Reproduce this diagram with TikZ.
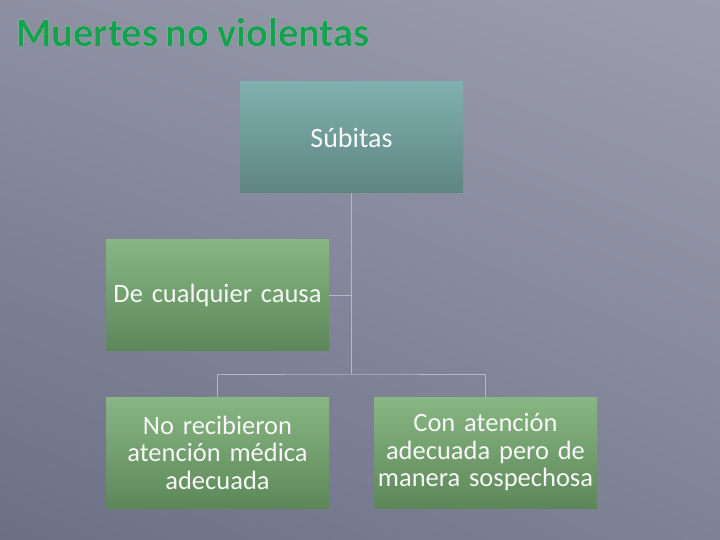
\documentclass[tikz,border=0pt]{standalone}
\usepackage{fontspec}
\setmainfont{Carlito}[WordSpace=0.85]
\usepackage[outline]{contour}
\contourlength{1.8pt}
\usetikzlibrary{shadings}
\definecolor{bgtop}{HTML}{9C9EAF}
\definecolor{bgbot}{HTML}{6C7084}
\definecolor{teal1}{HTML}{80B1AE}
\definecolor{teal2}{HTML}{5E8583}
\definecolor{green1}{HTML}{88B783}
\definecolor{green2}{HTML}{5D8759}
\definecolor{lineC}{HTML}{B4B8C4}
\definecolor{titleG}{HTML}{17A050}
\begin{document}
\begin{tikzpicture}[x=1pt,y=-1pt,
  box/.style={minimum width=223pt,minimum height=111pt,inner sep=2pt,text width=219pt,align=center,
    text=white!94!gray,font=\fontsize{26.5}{27.5}\selectfont},
  tealbox/.style={box,top color=teal1,bottom color=teal2,font=\fontsize{28}{30}\selectfont},
  greenbox/.style={box,top color=green1,bottom color=green2},
  conn/.style={draw=lineC,line width=0.7pt},
  ttl/.style={anchor=base west,inner sep=0pt,font=\fontsize{40.5}{44}\selectfont\bfseries}]
\useasboundingbox (0,0) rectangle (720,540);
\shade[lower left=bgbot,lower right=bgbot!60!bgtop,upper left=bgtop!70!bgbot,upper right=bgtop] (0,0) rectangle (720,540);
% title
\node (title) [ttl,text=titleG] at (16,47) {\contour{white}{Muertes no violentas}};
% boxes
\node (sub) [tealbox] at (351.5,137.5) {Súbitas};
\node (cual) [greenbox] at (217.5,295) {De cualquier causa};
\node (nor) [greenbox] at (217.5,452.5) {No recibieron\\atención médica\\adecuada};
\node (con) [greenbox] at (485.5,452.5) {Con atención\\adecuada pero de\\manera sospechosa};
\coordinate (j) at (sub.south |- 0,374);
\draw[conn] (sub.south) -- (j);
\draw[conn] (cual.east) -- (cual.east -| sub.south);
\draw[conn] (nor.north) |- (j) -| (con.north);
\end{tikzpicture}
\end{document}
